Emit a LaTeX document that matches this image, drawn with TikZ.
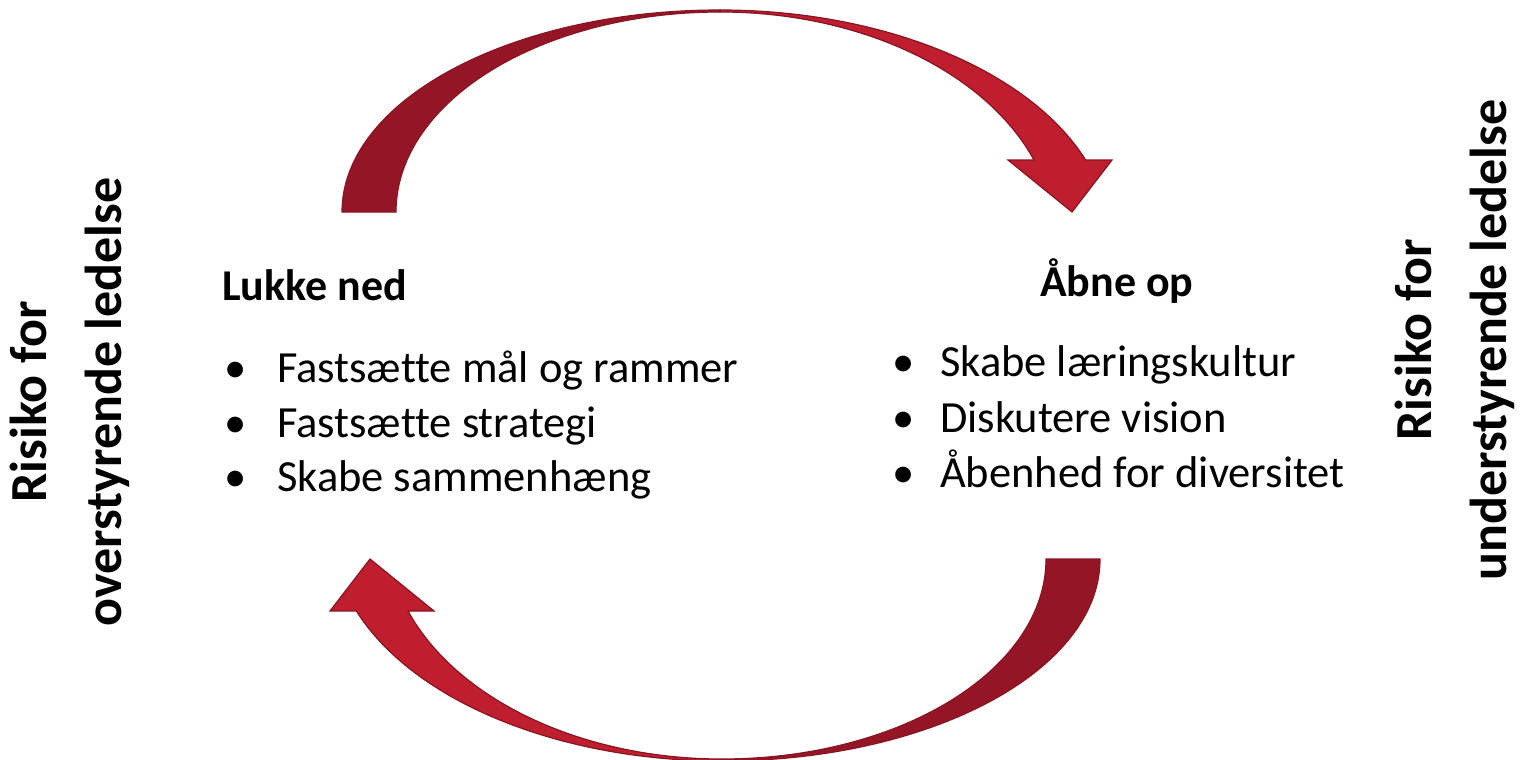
\documentclass[tikz,border=0pt]{standalone}
\usepackage{fontspec}
\setmainfont{Carlito}[Ligatures=NoCommon]
\definecolor{loopdark}{HTML}{941626}
\definecolor{looplight}{HTML}{BE1E2E}
\definecolor{loopline}{HTML}{8A1422}
\tikzset{
  dark part/.style={fill=loopdark, draw=loopline, line width=1.2pt},
  light part/.style={fill=looplight, draw=loopline, line width=1.2pt},
  heading/.style={anchor=base west, inner sep=0pt, font=\fontsize{44}{53}\selectfont\bfseries},
  item/.style={anchor=base west, inner sep=0pt, font=\fontsize{44.5}{54}\selectfont},
  risk/.style={rotate=90, align=center, inner sep=0pt, font=\fontsize{52}{75}\selectfont\bfseries},
  half loop/.pic={
    \path[dark part] (342,-212) arc[start angle=180, end angle=90, x radius=378, y radius=202]
      -- (720,-12) arc[start angle=90, end angle=180, x radius=324, y radius=200] -- cycle;
    \path[light part] (720,-10) arc[start angle=90, end angle=20.35, x radius=390, y radius=230]
      -- (1112,-160) -- (1072,-212) -- (1008,-160) -- (1034,-160)
      arc[start angle=20.54, end angle=90, x radius=335, y radius=228] -- cycle;
  }
}
\begin{document}
\begin{tikzpicture}[x=1pt, y=1pt]
  \fill[white] (0,0) rectangle (1521,-760);
  \useasboundingbox (0,0) rectangle (1521,-760);
  % the two turning arrows
  \pic at (0,0) {half loop};
  \pic[rotate=180] at (1442,-771) {half loop};
  % left list
  \node[heading] (lukke) at (222,-300) {Lukke ned};
  \node[item] (luk1) at (224,-382) {\makebox[53pt][l]{\textbullet}Fastsætte mål og rammer};
  \node[item] (luk2) at (224,-437) {\makebox[53pt][l]{\textbullet}Fastsætte strategi};
  \node[item] (luk3) at (224,-491) {\makebox[53pt][l]{\textbullet}Skabe sammenhæng};
  % right list
  \node[heading] (aabne) at (1040,-296) {Åbne op};
  \node[item] (aab1) at (892,-376) {\makebox[48pt][l]{\textbullet}Skabe læringskultur};
  \node[item] (aab2) at (892,-432) {\makebox[48pt][l]{\textbullet}Diskutere vision};
  \node[item] (aab3) at (892,-487) {\makebox[48pt][l]{\textbullet}Åbenhed for diversitet};
  % side labels
  \node[risk] (over) at (70,-402) {Risiko for\\overstyrende ledelse};
  \node[risk] (under) at (1455,-340) {Risiko for\\understyrende ledelse};
\end{tikzpicture}
\end{document}
